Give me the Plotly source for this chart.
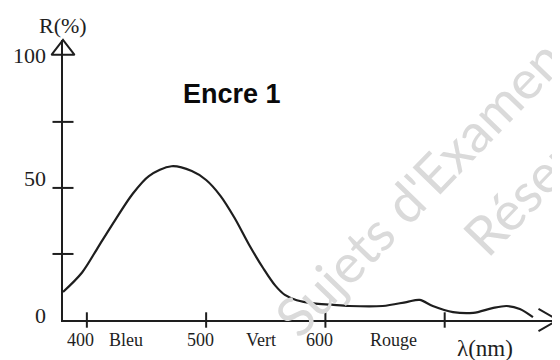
import plotly.graph_objects as go

# Reflectance curve
wavelength = [380, 396, 410, 424, 438, 452, 471, 488, 500, 512, 524, 536, 548, 558,
              566, 576, 590, 605, 620, 648, 668, 679, 690, 707, 724, 740, 752, 763, 774]
reflectance = [10.6, 18, 28, 38, 47.5, 54.5, 58.2, 56.4, 53, 47, 38.5, 28.5, 19.5, 13,
               9.5, 7.5, 6.3, 5.8, 5.3, 5.3, 6.8, 7.6, 5.3, 3, 2.7, 4.5, 5.3, 4.2, 1.1]

x_tick_marks = [400, 500, 600, 700]
x_num_labels = [400, 500, 600]
color_names = ["Bleu", "Vert", "Rouge"]
color_pos = [433, 546, 657]
y_tick_marks = [25, 50, 75]
y_labels = [0, 50, 100]
y_label_shift = [5, 9, 0]

X_MIN, X_MAX = 380, 795
Y_MIN, Y_MAX = 0, 106

INK = "#1e1e1e"
SERIF = "Liberation Serif"

fig = go.Figure()

fig.add_trace(go.Scatter(
    x=wavelength, y=reflectance, mode="lines",
    line=dict(color=INK, width=2.2, shape="spline", smoothing=0.9),
    cliponaxis=False, showlegend=False, hoverinfo="skip"))

# crossing tick marks
fig.add_trace(go.Scatter(
    x=x_tick_marks, y=[0] * len(x_tick_marks), mode="markers",
    marker=dict(symbol="line-ns", size=11, line=dict(color=INK, width=2)),
    cliponaxis=False, showlegend=False, hoverinfo="skip"))
fig.add_trace(go.Scatter(
    x=[X_MIN] * len(y_tick_marks), y=y_tick_marks, mode="markers",
    marker=dict(symbol="line-ew", size=15, line=dict(color=INK, width=2)),
    cliponaxis=False, showlegend=False, hoverinfo="skip"))

# arrow head of the vertical axis
fig.add_trace(go.Scatter(
    x=[X_MIN], y=[102.3], mode="markers",
    marker=dict(symbol="triangle-up-open", size=20, color=INK, line=dict(color=INK, width=2)),
    cliponaxis=False, showlegend=False, hoverinfo="skip"))

ann = []
# chevron arrow head of horizontal axis
for ay in (-12, 12):
    ann.append(dict(x=X_MAX, y=0, xref="x", yref="y", ax=-21, ay=ay, axref="pixel", ayref="pixel",
                    text="", showarrow=True, arrowhead=0, arrowwidth=2, arrowcolor=INK, standoff=0))

for v in x_num_labels:
    ann.append(dict(x=v, y=0, xref="x", yref="y", text=str(v), showarrow=False,
                    yshift=-20, xshift=-6, font=dict(family=SERIF, size=18, color=INK)))
for name, p in zip(color_names, color_pos):
    ann.append(dict(x=p, y=0, xref="x", yref="y", text=name, showarrow=False,
                    yshift=-20, font=dict(family=SERIF, size=18, color=INK)))
for v, s in zip(y_labels, y_label_shift):
    ann.append(dict(x=0, y=v, xref="paper", yref="y", text=str(v), showarrow=False,
                    xanchor="right", xshift=-15, yshift=s, font=dict(family=SERIF, size=22, color=INK)))

ann.append(dict(x=0, y=1.05, xref="paper", yref="paper", text="R(%)", showarrow=False,
                xanchor="center", yanchor="middle", font=dict(family=SERIF, size=22, color=INK)))
ann.append(dict(x=734, y=0, xref="x", yref="y", text="λ(nm)", showarrow=False,
                yshift=-28, font=dict(family=SERIF, size=23, color=INK)))
ann.append(dict(x=522, y=85.6, xref="x", yref="y", text="Encre 1", showarrow=False,
                font=dict(family="Liberation Sans", size=27, color="#0a0a0a", weight="bold")))

# watermark
ann.append(dict(x=(426 - 63) / 495, y=(320 - 179) / 280, xref="paper", yref="paper",
                xanchor="center", yanchor="middle",
                text="Sujets d'Examens", showarrow=False, textangle=-46,
                font=dict(family="Lato", size=54, color="#dadada")))
ann.append(dict(x=(538 - 63) / 495, y=(320 - 177) / 280, xref="paper", yref="paper",
                xanchor="center", yanchor="middle",
                text="Réservé", showarrow=False, textangle=-46,
                font=dict(family="Lato", size=54, color="#dadada")))

fig.update_layout(
    width=552, height=352,
    margin=dict(l=55, r=2, t=32, b=40),
    paper_bgcolor="white", plot_bgcolor="white",
    annotations=ann,
    xaxis=dict(range=[X_MIN, X_MAX], showgrid=False, zeroline=False, showticklabels=False,
               ticks="", showline=True, linecolor=INK, linewidth=2),
    yaxis=dict(range=[Y_MIN, Y_MAX], showgrid=False, zeroline=False, showticklabels=False,
               ticks="", showline=True, linecolor=INK, linewidth=2),
)

fig.write_html("out.html")
